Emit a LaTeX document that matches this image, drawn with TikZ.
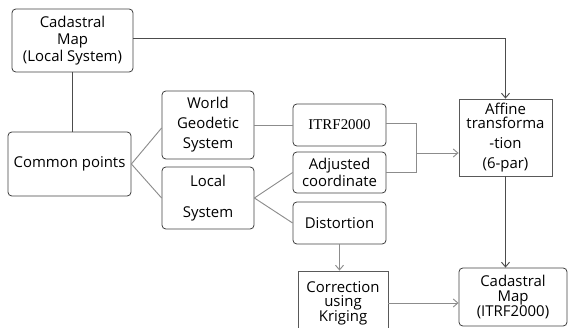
\documentclass[tikz,border=0pt]{standalone}
\usepackage{fontspec}
\setmainfont{Open Sans}
\newfontfamily\serifnum{Liberation Serif}
\usetikzlibrary{arrows.meta,calc,positioning}

\tikzset{
  rbox/.style={draw=black!75, rounded corners=0.1cm, align=center, inner sep=0pt,
    line width=0.6pt, font=\fontsize{11.2}{13}\selectfont},
  sbox/.style={rbox, rounded corners=0pt, draw=black!65},
  dline/.style={draw=black!70, line width=0.7pt},
  lline/.style={draw=black!45, line width=0.7pt},
  tip/.style={-{Straight Barb[length=3.5pt,width=6pt]}}
}

\begin{document}
\begin{tikzpicture}[x=0.75pt,y=-0.75pt]
% =============================================
% - frame.
\useasboundingbox (0,0) rectangle (568,328);
% boxes
\node[rbox, minimum width=121*0.75pt, minimum height=63*0.75pt] (cadL) at (72.5,40.5)
  {Cadastral\\Map\\(Local System)};
\node[rbox, minimum width=123*0.75pt, minimum height=64*0.75pt] (common) at (69.5,164)
  {Common points};
\node[rbox, minimum width=92*0.75pt, minimum height=68*0.75pt] (wgs) at (208,125)
  {World\\[2pt]Geodetic\\[2pt]System};
\node[rbox, minimum width=92*0.75pt, minimum height=62*0.75pt] (local) at (208,198)
  {Local\\[10pt]System};
\node[rbox, minimum width=93*0.75pt, minimum height=42*0.75pt] (itrf) at (339.5,125)
  {\serifnum ITRF2000};
\node[rbox, minimum width=93*0.75pt, minimum height=41*0.75pt] (adj) at (339.5,172.5)
  {Adjusted\\coordinate};
\node[rbox, minimum width=93*0.75pt, minimum height=42*0.75pt] (dist) at (339.5,223)
  {Distortion};
\node[sbox, minimum width=90*0.75pt, minimum height=64*0.75pt] (corr) at (343,303)
  {Correction\\[-2pt]using\\[-2pt]Kriging};
\node[sbox, minimum width=93*0.75pt, minimum height=77*0.75pt] (affine) at (505.5,137.5)
  {Affine\\[-2pt]transforma\\[2pt]-tion\\[2pt](6-par)};
\node[rbox, minimum width=108*0.75pt, minimum height=58*0.75pt] (cadI) at (513,297)
  {Cadastral\\[-2pt]Map\\[-2pt](ITRF2000)};
%
% - connectors.
\draw[dline, tip] (cadL.east |- 0,38) -| (affine.north);
\draw[dline] (cadL.south) -- (cadL.south |- common.north);
\draw[lline] (common.east) -- (wgs.west |- 0,128);
\draw[lline] (common.east) -- (local.west);
\draw[lline] (wgs.east) -- (itrf.west);
\draw[lline] (local.east) -- (adj.west);
\draw[lline] (local.east) -- (dist.west);
\coordinate (brk) at (416,153);
\draw[lline] (itrf.east |- 0,123) -| (brk |- adj.east) -- (adj.east);
\draw[lline, tip] (brk) -- (brk -| affine.west);
\draw[lline, tip] (dist.south) -- (dist.south |- corr.north);
\draw[lline, tip] (corr.east) -- (corr.east -| cadI.west);
\draw[dline, tip] (affine.south) -- (affine.south |- cadI.north);
% =============================================
\end{tikzpicture}
\end{document}
